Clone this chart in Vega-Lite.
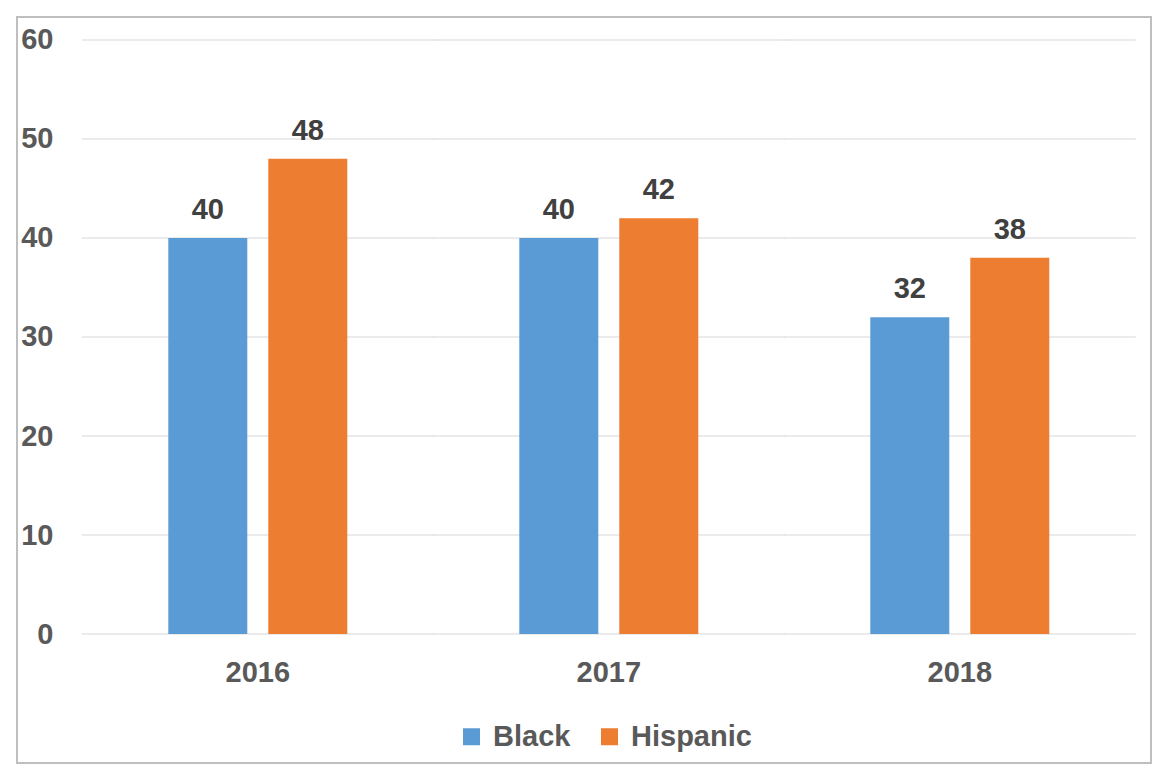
{
  "$schema": "https://vega.github.io/schema/vega-lite/v6.json",
  "width": 1134,
  "height": 746,
  "autosize": {"type": "none"},
  "padding": {"left": 17, "top": 17, "right": 5, "bottom": 10},
  "background": "white",
  "config": {
    "view": {"stroke": "#bfbfbf", "strokeWidth": 2, "fill": "white"},
    "font": "Liberation Sans"
  },
  "datasets": {
    "bars": [
      {"year": "2016", "group": "Black", "value": 40},
      {"year": "2016", "group": "Hispanic", "value": 48},
      {"year": "2017", "group": "Black", "value": 40},
      {"year": "2017", "group": "Hispanic", "value": 42},
      {"year": "2018", "group": "Black", "value": 32},
      {"year": "2018", "group": "Hispanic", "value": 38}
    ],
    "grid": [
      {"year": "2016", "value": 0}, {"year": "2017", "value": 0}, {"year": "2018", "value": 0},
      {"year": "2016", "value": 10}, {"year": "2017", "value": 10}, {"year": "2018", "value": 10},
      {"year": "2016", "value": 20}, {"year": "2017", "value": 20}, {"year": "2018", "value": 20},
      {"year": "2016", "value": 30}, {"year": "2017", "value": 30}, {"year": "2018", "value": 30},
      {"year": "2016", "value": 40}, {"year": "2017", "value": 40}, {"year": "2018", "value": 40},
      {"year": "2016", "value": 50}, {"year": "2017", "value": 50}, {"year": "2018", "value": 50},
      {"year": "2016", "value": 60}, {"year": "2017", "value": 60}, {"year": "2018", "value": 60}
    ]
  },
  "encoding": {
    "x": {
      "field": "year",
      "type": "nominal",
      "sort": ["2016", "2017", "2018"],
      "scale": {"paddingInner": 0, "paddingOuter": 0.1154, "align": 0.806},
      "axis": {
        "title": null,
        "labelAngle": 0,
        "domain": false,
        "ticks": false,
        "grid": false,
        "offset": -129,
        "labelPadding": 38,
        "labelBaseline": "middle",
        "labelFontSize": 29,
        "labelFontWeight": "bold",
        "labelColor": "#595959"
      }
    },
    "y": {
      "field": "value",
      "type": "quantitative",
      "scale": {"domain": [-13.03, 62.323], "nice": false, "zero": false},
      "axis": {
        "title": null,
        "values": [0, 10, 20, 30, 40, 50, 60],
        "grid": false,
        "domain": false,
        "ticks": false,
        "offset": -36,
        "labelPadding": 0,
        "labelFontSize": 29,
        "labelFontWeight": "bold",
        "labelColor": "#595959"
      }
    }
  },
  "layer": [
    {
      "data": {"name": "grid"},
      "mark": {"type": "tick", "orient": "horizontal", "size": 352, "thickness": 1.5, "color": "#d9d9d9"},
      "encoding": {}
    },
    {
      "data": {"name": "bars"},
      "mark": {"type": "bar"},
      "encoding": {
        "xOffset": {"field": "group", "type": "nominal", "scale": {"paddingInner": 0.21, "paddingOuter": 0.86}},
        "y2": {"datum": 0},
        "color": {
          "field": "group",
          "type": "nominal",
          "scale": {"domain": ["Black", "Hispanic"], "range": ["#5B9BD5", "#ED7D31"]},
          "legend": {
            "title": null,
            "orient": "none",
            "legendX": 440,
            "legendY": 705,
            "direction": "horizontal",
            "padding": 0,
            "symbolType": "square",
            "symbolSize": 289,
            "symbolStrokeWidth": 0,
            "labelFontSize": 29,
            "labelFontWeight": "bold",
            "labelColor": "#595959",
            "labelOffset": 7,
            "columnPadding": 24
          }
        }
      }
    },
    {
      "data": {"name": "bars"},
      "mark": {"type": "text", "baseline": "alphabetic", "dy": -19, "fontSize": 29, "fontWeight": "bold", "color": "#404040"},
      "encoding": {
        "xOffset": {"field": "group", "type": "nominal", "scale": {"paddingInner": 0.21, "paddingOuter": 0.86}},
        "text": {"field": "value", "type": "quantitative"}
      }
    }
  ]
}
